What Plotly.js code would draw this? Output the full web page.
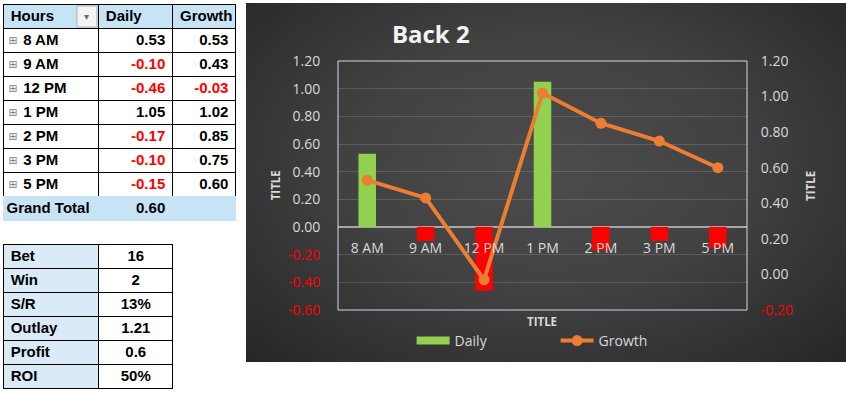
<!DOCTYPE html>
<html><head><meta charset="utf-8">
<script src="https://cdn.plot.ly/plotly-3.0.1.min.js"></script>
<style>
html,body{margin:0;padding:0;background:#fff;width:846px;height:394px;overflow:hidden}
#tables{position:absolute;left:0;top:0;width:615px;height:985px;transform-origin:0 0}
#chart{position:absolute;left:246px;top:3px;width:600px;height:359px;
background:radial-gradient(ellipse farthest-corner at 50% 45%, #4c4c4c 0%, #424242 45%, #262626 100%)}
</style></head><body>
<div id="tables"></div><div id="chart"></div>
<script>
// ---- data ----
const hours = ["8 AM","9 AM","12 PM","1 PM","2 PM","3 PM","5 PM"];
const daily = [0.53,-0.10,-0.46,1.05,-0.17,-0.10,-0.15];
const growth = [0.53,0.43,-0.03,1.02,0.85,0.75,0.60];
const grandTotalLabel = "Grand Total";
const grandTotalDaily = 0.60;
const statLabels = ["Bet","Win","S/R","Outlay","Profit","ROI"];
const statValues = ["16","2","13%","1.21","0.6","50%"];
const leftTickVals = [-0.6,-0.4,-0.2,0,0.2,0.4,0.6,0.8,1.0,1.2];
const rightTickVals = [-0.2,0,0.2,0.4,0.6,0.8,1.0,1.2];

// ---- styles ----
const GREEN = "#92D050", RED = "#FF0000", ORANGE = "#ED7D31";
const HEAD_BLUE = "#C7E4F6", STAT_BLUE = "#DAEAF7";
const TXT = "#d9d9d9";
const B = s => "<b>" + s + "</b>";
const fmt = v => v.toFixed(2);

// Tables are drawn at 2.5x and scaled down by CSS after rendering (Plotly's fixed
// cell padding would otherwise force tall rows).
const K = 2.5;
const H = 394, W = 246, ROW = 24, TOP1 = 4;
const FS = 15 * K;
const NB = "\u00a0";

// ---- tables ----
const col1 = hours.map(h => B(NB + NB + NB + NB + h)).concat([B(grandTotalLabel)]);
const col2 = daily.map(v => B(fmt(v) + NB)).concat([B(fmt(grandTotalDaily) + NB)]);
const col3 = growth.map(v => B(fmt(v) + NB)).concat([""]);
const whiteCol = hours.map(() => "white").concat([HEAD_BLUE]);
const blackCol = hours.map(() => "black").concat([HEAD_BLUE]);
const colorOf = v => v < 0 ? RED : "black";

const table1 = {
  type: "table",
  domain: {x: [3.3/W, 236/W], y: [1 - 222/H, 1 - TOP1/H]},
  columnwidth: [95, 74, 63],
  header: {
    values: [[B(NB + "Hours")],[B(NB + "Daily")],[B(NB + "Growth")]],
    align: ["left","left","left"],
    height: ROW * K,
    fill: {color: HEAD_BLUE},
    line: {color: "black", width: K},
    font: {family: "Liberation Sans", size: FS, color: "black"}
  },
  cells: {
    values: [col1, col2, col3],
    align: ["left","right","right"],
    height: ROW * K,
    fill: {color: [whiteCol, whiteCol, whiteCol]},
    line: {color: [blackCol, blackCol, blackCol], width: K},
    font: {family: "Liberation Sans", size: FS,
           color: [col1.map(() => "black"),
                   daily.map(colorOf).concat(["black"]),
                   growth.map(colorOf).concat(["black"])]}
  }
};

const table2 = {
  type: "table",
  domain: {x: [3.3/W, 173/W], y: [1 - 390/H, 1 - 244/H]},
  columnwidth: [95, 74],
  header: {
    values: [[B(NB + statLabels[0])], [B(statValues[0])]],
    align: ["left","center"],
    height: ROW * K,
    fill: {color: [STAT_BLUE, "white"]},
    line: {color: "black", width: K},
    font: {family: "Liberation Sans", size: FS, color: "black"}
  },
  cells: {
    values: [statLabels.slice(1).map(s => B(NB + s)), statValues.slice(1).map(B)],
    align: ["left","center"],
    height: ROW * K,
    fill: {color: [statLabels.slice(1).map(() => STAT_BLUE), statValues.slice(1).map(() => "white")]},
    line: {color: "black", width: K},
    font: {family: "Liberation Sans", size: FS, color: "black"}
  }
};

// expand/collapse icons for each pivot row
const iconAnn = hours.map((h, i) => ({
  xref: "paper", yref: "paper", x: 13/W, y: 1 - (TOP1 + ROW * (i + 1) + ROW / 2) / H,
  xanchor: "center", yanchor: "middle", text: "⊞", showarrow: false,
  font: {family: "DejaVu Sans", size: 11 * K, color: "#808080"}
}));

Plotly.newPlot("tables", [table1, table2], {
  width: W * K, height: H * K,
  margin: {l: 0, r: 0, t: 0, b: 0},
  paper_bgcolor: "white",
  shapes: [{type: "rect", xref: "paper", yref: "paper",
            x0: 77/W, x1: 97/W, y0: 1 - 27/H, y1: 1 - 6/H,
            fillcolor: "#f4f4f4", line: {color: "#b0b0b0", width: K}}],
  annotations: [{xref: "paper", yref: "paper", x: 87/W, y: 1 - 16/H, yanchor: "middle",
                 text: "▾", showarrow: false, font: {size: 10 * K, color: "#6d6d6d"}}].concat(iconAnn)
}, {staticPlot: true}).then(() => {
  document.getElementById("tables").style.transform = "scale(" + (1 / K) + ")";
});

// ---- chart ----
const barColors = daily.map(v => v < 0 ? RED : GREEN);
const fmtTick = v => v < 0 ? '<span style="color:#ff0000">' + fmt(v) + '</span>' : fmt(v);

const traces = [
  {type: "bar", name: "Daily", x: hours, y: daily, legendgroup: "daily",
   showlegend: false, marker: {color: barColors}, hoverinfo: "x+y"},
  {type: "scatter", mode: "lines", name: "Daily", x: [null], y: [null],
   legendgroup: "daily", line: {color: GREEN, width: 8}},
  {type: "scatter", mode: "lines+markers", name: "Growth", x: hours, y: growth,
   yaxis: "y2", line: {color: ORANGE, width: 4}, marker: {color: ORANGE, size: 11}}
];

const font = {family: "Open Sans", size: 14, color: TXT};
const tfont = {family: "Open Sans", size: 11.5, color: TXT};
const layout = {
  width: 600, height: 359,
  margin: {l: 92, r: 99, t: 58, b: 52, autoexpand: false},
  paper_bgcolor: "rgba(0,0,0,0)", plot_bgcolor: "rgba(0,0,0,0)",
  font: font,
  bargap: 0.7,
  title: {text: B("Back 2"), x: 0.308, xanchor: "center", xref: "container",
          y: 0.911, yanchor: "middle", yref: "container",
          font: {family: "Open Sans", size: 24, color: "#f2f2f2"}},
  xaxis: {type: "category", anchor: "free", position: 1/3, showgrid: false,
          showline: false, zeroline: false, ticks: "outside", ticklen: 8,
          tickcolor: "rgba(0,0,0,0)", tickfont: font, fixedrange: true},
  yaxis: {range: [-0.6, 1.2], tickvals: leftTickVals, ticktext: leftTickVals.map(fmtTick),
          showgrid: true, gridcolor: "rgba(255,255,255,0.14)", gridwidth: 1,
          zeroline: true, zerolinecolor: "#a6a6a6", zerolinewidth: 2,
          ticks: "outside", ticklen: 14, tickcolor: "rgba(0,0,0,0)", tickfont: font,
          showline: false, fixedrange: true},
  yaxis2: {range: [-0.2, 1.2], overlaying: "y", side: "right",
           tickvals: rightTickVals, ticktext: rightTickVals.map(fmtTick),
           showgrid: false, zeroline: false, ticks: "outside", ticklen: 10,
           tickcolor: "rgba(0,0,0,0)", tickfont: font, showline: false, fixedrange: true},
  shapes: [{type: "rect", xref: "paper", yref: "paper", x0: 0, x1: 1, y0: 0, y1: 1,
            line: {color: "#cdd8ea", width: 1}, fillcolor: "rgba(0,0,0,0)", layer: "above"}],
  showlegend: true,
  legend: {orientation: "h", x: 0.180, xanchor: "left", xref: "paper",
           y: 1 - 338/359, yanchor: "middle", yref: "container",
           font: font, bgcolor: "rgba(0,0,0,0)", entrywidth: 96, entrywidthmode: "pixels",
           itemwidth: 33},
  annotations: [
    {xref: "paper", yref: "paper", x: -0.152, y: 0.5, xanchor: "center", yanchor: "middle",
     text: B("TITLE"), textangle: -90, showarrow: false, font: tfont},
    {xref: "paper", yref: "paper", x: 1.155, y: 0.5, xanchor: "center", yanchor: "middle",
     text: B("TITLE"), textangle: -90, showarrow: false, font: tfont},
    {xref: "paper", yref: "paper", x: 0.498, y: -0.048, xanchor: "center", yanchor: "middle",
     text: B("TITLE"), showarrow: false, font: tfont}
  ]
};
Plotly.newPlot("chart", traces, layout, {staticPlot: true});
</script>
</body></html>
